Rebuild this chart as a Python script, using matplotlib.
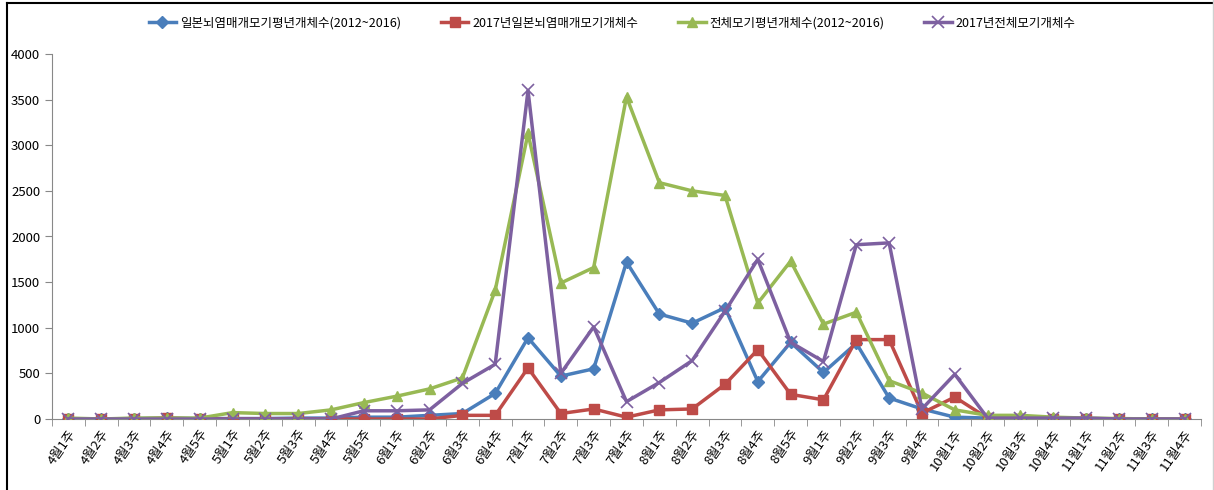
import matplotlib.pyplot as plt
import numpy as np
from matplotlib.lines import Line2D

plt.rcParams['font.family'] = ['Noto Sans CJK KR', 'DejaVu Sans']

weeks = ['4월1주', '4월2주', '4월3주', '4월4주', '4월5주',
         '5월1주', '5월2주', '5월3주', '5월4주', '5월5주',
         '6월1주', '6월2주', '6월3주', '6월4주',
         '7월1주', '7월2주', '7월3주', '7월4주',
         '8월1주', '8월2주', '8월3주', '8월4주', '8월5주',
         '9월1주', '9월2주', '9월3주', '9월4주',
         '10월1주', '10월2주', '10월3주', '10월4주',
         '11월1주', '11월2주', '11월3주', '11월4주']

jp_avg = [0, 0, 5, 10, 5, 5, 5, 10, 10, 20, 20, 40, 60, 280,
          890, 470, 550, 1720, 1150, 1050, 1220, 410, 840,
          510, 830, 230, 110, 20, 10, 5, 5, 5, 0, 0, 0]
jp_2017 = [0, 0, 0, 10, 0, 0, 0, 0, 0, 0, 0, 0, 40, 40,
           560, 60, 110, 20, 100, 110, 380, 760, 270,
           210, 870, 870, 65, 240, 10, 0, 0, 0, 0, 0, 0]
all_avg = [10, 0, 10, 10, 10, 70, 60, 60, 100, 180, 250, 330, 450, 1410,
           3130, 1490, 1660, 3530, 2590, 2500, 2450, 1270, 1730,
           1040, 1170, 420, 285, 100, 40, 40, 20, 10, 5, 0, 0]
all_2017 = [0, 0, 0, 0, 0, 0, 0, 0, 0, 90, 90, 100, 390, 600,
            3600, 500, 1010, 190, 400, 640, 1180, 1750, 840,
            630, 1910, 1930, 110, 490, 10, 10, 10, 10, 0, 0, 0]

labels = ['일본뇌염매개모기평년개체수(2012~2016)', '2017년일본뇌염매개모기개체수',
          '전체모기평년개체수(2012~2016)', '2017년전체모기개체수']

fig = plt.figure(figsize=(12.14, 4.9), dpi=100)
ax = fig.add_axes([52 / 1214, 1 - 419 / 490, (1201 - 52) / 1214, (419 - 54) / 490])

x = np.arange(len(weeks))
ax.plot(x, jp_avg, color='#4A7EBB', lw=2.5, marker='D', ms=6, label=labels[0], zorder=3)
ax.plot(x, jp_2017, color='#BE4B48', lw=2.5, marker='s', ms=7, label=labels[1], zorder=3)
ax.plot(x, all_avg, color='#98B954', lw=2.5, marker='^', ms=7, label=labels[2], zorder=3)
ax.plot(x, all_2017, color='#7D60A0', lw=2.5, marker='x', ms=8, mew=1.2, label=labels[3], zorder=3)

ax.set_xlim(-0.5, len(weeks) - 0.5)
ax.set_ylim(0, 4000)
ax.set_yticks(np.arange(0, 4001, 500))
ax.set_xticks(x)
ax.set_xticklabels(weeks, rotation=55, ha='right', rotation_mode='anchor', fontsize=9.5)
ax.set_xticks(np.arange(-0.5, len(weeks), 1), minor=True)
ax.tick_params(axis='x', which='major', length=0, pad=6)
ax.tick_params(axis='x', which='minor', length=5, color='#888888', direction='out')
ax.tick_params(axis='y', length=5, color='#888888', labelsize=9.5)

for s in ['top', 'right']:
    ax.spines[s].set_visible(False)
for s in ['left', 'bottom']:
    ax.spines[s].set_color('#888888')

ax.legend(loc='center', bbox_to_anchor=(612 / 1214, (490 - 23) / 490), bbox_transform=fig.transFigure,
          ncol=4, frameon=False, fontsize=9, columnspacing=3.2, handlelength=2.2, handletextpad=0.3)

# chart border
fig.add_artist(Line2D([6.5 / 1214, 6.5 / 1214], [0, 1 - 3 / 490], color='black', lw=1.5))
fig.add_artist(Line2D([6.5 / 1214, 1], [1 - 3 / 490, 1 - 3 / 490], color='black', lw=1.5))
fig.add_artist(Line2D([1 - 1 / 1214, 1 - 1 / 1214], [0, 1], color='#d0d0d0', lw=1))

fig.savefig('out.png', dpi=100)
